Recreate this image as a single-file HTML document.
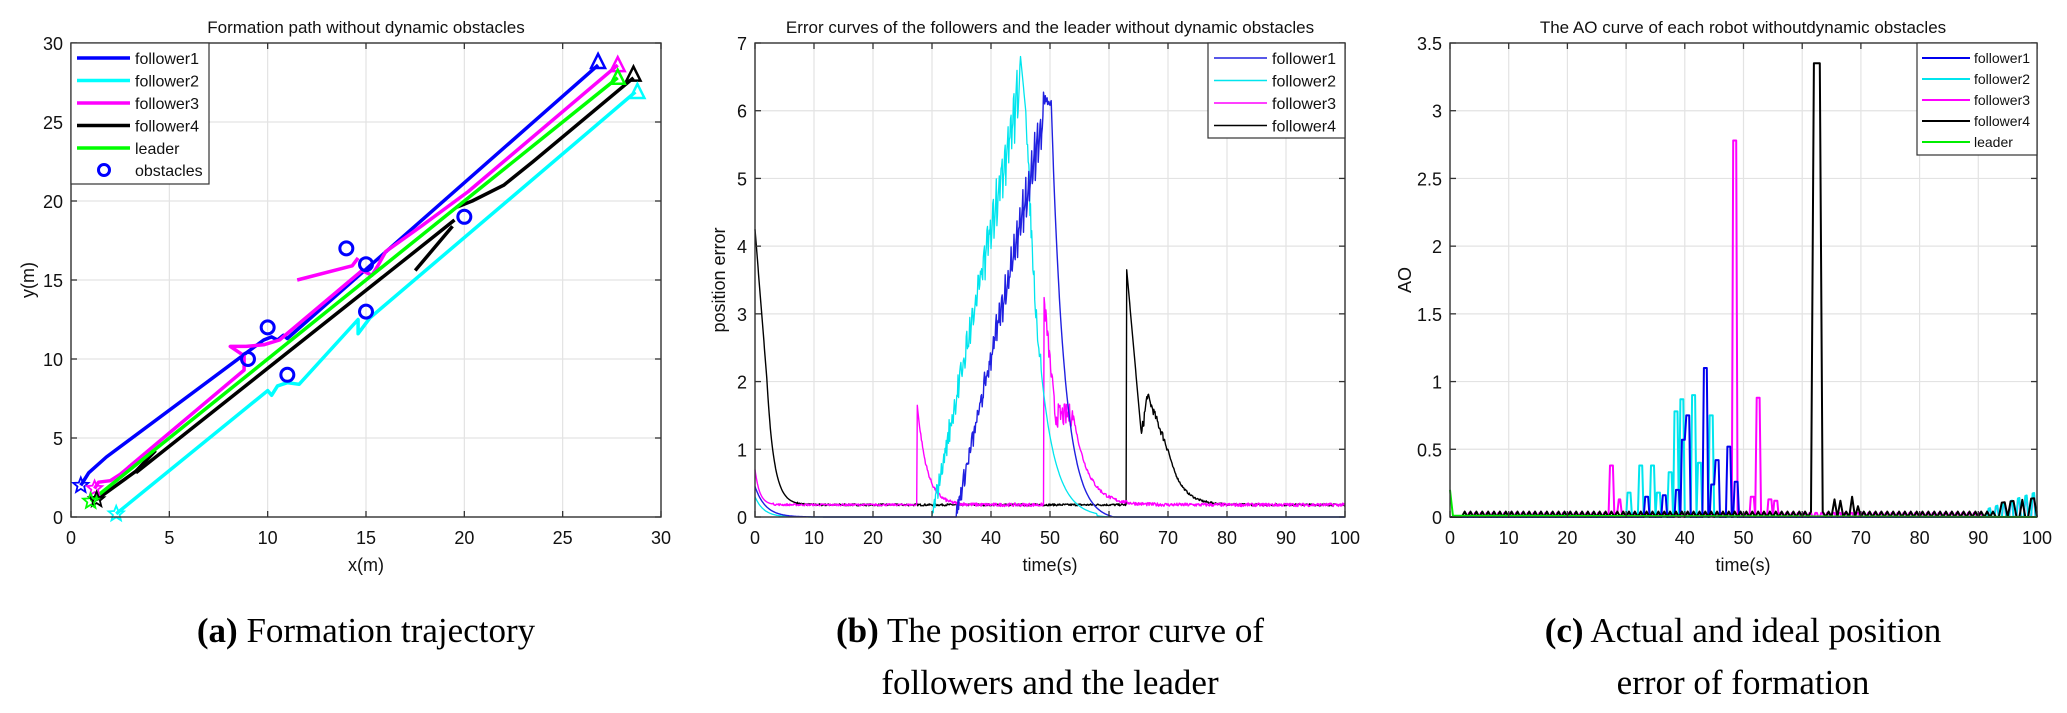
<!DOCTYPE html>
<html><head><meta charset="utf-8"><style>
html,body{margin:0;padding:0;background:#fff;}
svg{display:block;}
.t{font-family:"Liberation Sans",Arial,sans-serif;fill:#111;}
.cap{font-family:"Liberation Serif",serif;fill:#000;font-size:35px;}
</style></head><body>
<svg id="s" width="2067" height="713" xmlns="http://www.w3.org/2000/svg">
<rect width="2067" height="713" fill="#fff"/>
<g id="grid"></g>
<g id="data"></g>
<g id="axes"></g>
<text class="t" x="366" y="33" font-size="17" text-anchor="middle">Formation path without dynamic obstacles</text>
<text class="t" x="1050" y="33" font-size="17" text-anchor="middle">Error curves of the followers and the leader without dynamic obstacles</text>
<text class="t" x="1743" y="33" font-size="17" text-anchor="middle">The AO curve of each robot withoutdynamic obstacles</text>
<text class="t" x="366" y="571" font-size="18" text-anchor="middle">x(m)</text>
<text class="t" x="1050" y="571" font-size="18" text-anchor="middle">time(s)</text>
<text class="t" x="1743" y="571" font-size="18" text-anchor="middle">time(s)</text>
<text class="t" x="34" y="280" font-size="18" text-anchor="middle" transform="rotate(-90 34 280)">y(m)</text>
<text class="t" x="725" y="280" font-size="18" text-anchor="middle" transform="rotate(-90 725 280)">position error</text>
<text class="t" x="1411" y="280" font-size="18" text-anchor="middle" transform="rotate(-90 1411 280)">AO</text>
<text class="cap" x="366" y="642" text-anchor="middle"><tspan font-weight="bold">(a)</tspan> Formation trajectory</text>
<text class="cap" x="1050" y="642" text-anchor="middle"><tspan font-weight="bold">(b)</tspan> The position error curve of</text>
<text class="cap" x="1050" y="694" text-anchor="middle">followers and the leader</text>
<text class="cap" x="1743" y="642" text-anchor="middle"><tspan font-weight="bold">(c)</tspan> Actual and ideal position</text>
<text class="cap" x="1743" y="694" text-anchor="middle">error of formation</text>
<g id="ticks"></g>
<g id="leg"></g>
</svg>
<script>
var NS="http://www.w3.org/2000/svg";
function el(g,tag,a,txt){var e=document.createElementNS(NS,tag);for(var k in a)e.setAttribute(k,a[k]);if(txt!==undefined)e.textContent=txt;document.getElementById(g).appendChild(e);return e;}
var seed=7;function rnd(){seed=(seed*16807)%2147483647;return seed/2147483647;}
var P={
 a:{x0:71,x1:661,y0:43,y1:517,xmin:0,xmax:30,ymin:0,ymax:30,xt:[0,5,10,15,20,25,30],yt:[0,5,10,15,20,25,30]},
 b:{x0:755,x1:1345,y0:43,y1:517,xmin:0,xmax:100,ymin:0,ymax:7,xt:[0,10,20,30,40,50,60,70,80,90,100],yt:[0,1,2,3,4,5,6,7]},
 c:{x0:1450,x1:2037,y0:43,y1:517,xmin:0,xmax:100,ymin:0,ymax:3.5,xt:[0,10,20,30,40,50,60,70,80,90,100],yt:[0,0.5,1,1.5,2,2.5,3,3.5]}
};
function X(p,v){return p.x0+(v-p.xmin)/(p.xmax-p.xmin)*(p.x1-p.x0);}
function Y(p,v){return p.y1-(v-p.ymin)/(p.ymax-p.ymin)*(p.y1-p.y0);}
for(var k in P){var p=P[k];
 p.xt.forEach(function(v){var x=X(p,v);
  el("grid","line",{x1:x,x2:x,y1:p.y0,y2:p.y1,stroke:"#e3e3e3","stroke-width":1.2});
  el("axes","line",{x1:x,x2:x,y1:p.y1,y2:p.y1-6,stroke:"#333","stroke-width":1.3});
  el("axes","line",{x1:x,x2:x,y1:p.y0,y2:p.y0+6,stroke:"#333","stroke-width":1.3});
  el("ticks","text",{x:x,y:p.y1+27,"font-size":18,"text-anchor":"middle","class":"t"},String(v));});
 p.yt.forEach(function(v){var y=Y(p,v);
  el("grid","line",{x1:p.x0,x2:p.x1,y1:y,y2:y,stroke:"#e3e3e3","stroke-width":1.2});
  el("axes","line",{x1:p.x0,x2:p.x0+6,y1:y,y2:y,stroke:"#333","stroke-width":1.3});
  el("axes","line",{x1:p.x1,x2:p.x1-6,y1:y,y2:y,stroke:"#333","stroke-width":1.3});
  el("ticks","text",{x:p.x0-8,y:y+7,"font-size":18,"text-anchor":"end","class":"t"},String(v));});
 el("axes","rect",{x:p.x0,y:p.y0,width:p.x1-p.x0,height:p.y1-p.y0,fill:"none",stroke:"#333","stroke-width":1.4});
}
function poly(p,pts,col,w){var s=pts.map(function(q){return X(p,q[0]).toFixed(1)+","+Y(p,q[1]).toFixed(1);}).join(" ");
 el("data","polyline",{points:s,fill:"none",stroke:col,"stroke-width":w,"stroke-linejoin":"round"});}
var a=P.a,B="#0000ff",C="#00ffff",M="#ff00ff",K="#000",G="#00ff00";
poly(a,[[0.5,2],[0.9,2.8],[1.8,3.8],[9.8,11.2],[10.2,11.4],[10.5,11.2],[10.8,11.5],[11,11.3],[26.8,28.6]],B,3.5);
poly(a,[[2.3,0.2],[10,8],[10.2,7.7],[10.5,8.3],[11,8.5],[11.6,8.4],[14.6,12.5],[14.6,11.6],[15.2,12.6],[28.7,26.9]],C,3.5);
poly(a,[[1.2,1.8],[1.4,2.2],[2,2.3],[2.5,2.7],[8.8,9.3],[8.8,10.2],[8.1,10.8],[8.9,10.8],[9.8,10.9],[10.6,11.2],[14.8,15.6],[15.3,15.3],[15.6,15.9],[16,16.8],[17.8,18.4],[20.2,20.6],[27.8,28.6]],M,3.5);
poly(a,[[11.5,15],[14.3,15.9],[14.6,16.4]],M,3.5);
poly(a,[[1.3,1.1],[3.3,2.9],[4.3,4.2]],K,3.5);
poly(a,[[3.3,2.8],[18.4,17.7],[19.5,18.8]],K,3.5);
poly(a,[[17.5,15.6],[19.4,18.4]],K,3.5);
poly(a,[[19.6,19.6],[20.4,20],[22,21],[23.5,22.5],[28.6,27.8]],K,3.5);
poly(a,[[1,1],[27.8,27.8]],G,3.5);
function tri(p,x,y,col){var cx=X(p,x),cy=Y(p,y);el("data","polygon",{points:(cx-7)+","+(cy+6)+" "+(cx+7)+","+(cy+6)+" "+cx+","+(cy-8),fill:"none",stroke:col,"stroke-width":2.5});}
tri(a,26.8,28.8,B);tri(a,27.8,28.6,M);tri(a,28.6,28,K);tri(a,27.8,27.8,G);tri(a,28.8,26.9,C);
function star(p,x,y,col){var cx=X(p,x),cy=Y(p,y),s="";for(var i=0;i<10;i++){var r=i%2?3.5:8,an=-Math.PI/2+i*Math.PI/5;s+=(cx+r*Math.cos(an)).toFixed(1)+","+(cy+r*Math.sin(an)).toFixed(1)+" ";}
 el("data","polygon",{points:s,fill:"none",stroke:col,"stroke-width":1.8});}
star(a,0.5,2,B);star(a,1.2,1.8,M);star(a,1.3,1.1,K);star(a,2.3,0.2,C);star(a,1,1,G);
[[9,10],[10,12],[11,9],[14,17],[15,16],[15,13],[20,19]].forEach(function(o){el("data","circle",{cx:X(a,o[0]),cy:Y(a,o[1]),r:6.5,fill:"none",stroke:B,"stroke-width":3});});
el("leg","rect",{x:71,y:43,width:138,height:141,fill:"#fff",stroke:"#333","stroke-width":1.2});
[["follower1",B],["follower2",C],["follower3",M],["follower4",K],["leader",G]].forEach(function(l,i){var y=58+i*22.5;
 el("leg","line",{x1:77,x2:130,y1:y,y2:y,stroke:l[1],"stroke-width":3.5});
 el("leg","text",{x:135,y:y+6,"font-size":16,"class":"t"},l[0]);});
el("leg","circle",{cx:104,cy:170,r:5.5,fill:"none",stroke:B,"stroke-width":3});
el("leg","text",{x:135,y:176,"font-size":16,"class":"t"},"obstacles");
var b=P.b;
function series(f){var r=[];for(var t=0;t<=100.001;t+=0.1)r.push([t,f(t)]);return r;}
poly(b,series(function(t){
 if(t<63){var v=0.18+4.07*Math.exp(-t/1.6);if(t<2)v=4.25-t*1.1+0.0;return (t>2? 0.18+ (4.25-2.2-0.18)*Math.exp(-(t-2)/1.2):v)+ (t>7?(rnd()-0.5)*0.03:0);}
 if(t<65.5)return 3.65-(t-63)*0.98;
 if(t<66.5)return 1.2+(t-65.5)*0.6+(rnd()-0.5)*0.2;
 if(t<70)return 1.8-(t-66.5)*0.23+(rnd()-0.5)*0.12;
 return 0.18+0.82*Math.exp(-(t-70)/2.2)+(rnd()-0.5)*0.03;}),"#000",1.4);
poly(b,series(function(t){
 if(t<27.5)return 0.18+0.52*Math.exp(-t/0.8)+(t>3?(rnd()-0.5)*0.03:0);
 if(t<28)return 1.65-(t-27.5)*0.8;
 if(t<49)return 0.18+1.1*Math.exp(-(t-28)/1.6)+(rnd()-0.5)*0.05;
 if(t<51)return 3.2-(t-49)*0.9+(rnd()-0.5)*0.3;
 if(t<54)return 1.5+(rnd()-0.5)*0.35;
 return 0.18+1.3*Math.exp(-(t-54)/2.5)+(rnd()-0.5)*0.05;}),"#ff00ff",1.4);
poly(b,series(function(t){
 if(t<30)return 0.3*Math.exp(-t/1.5);
 if(t<45)return Math.max(0,(t-30)/15*6.5+ (((t*2)%1)-0.5)*0.9*(t-30)/15+(rnd()-0.5)*0.3);
 if(t<46)return 6.8-(t-45)*0.9;
 if(t<58)return 5.9*Math.exp(-(t-46)/2.5)+ (t<48.5?(rnd()-0.5)*0.4:0);
 return 0.02*Math.exp(-(t-58));}),"#00e5ee",1.3);
poly(b,series(function(t){
 if(t<34)return 0.45*Math.exp(-t/1.8);
 if(t<49)return Math.max(0,(t-34)/15*6.0+(((t*2)%1)-0.5)*0.8*(t-34)/15+(rnd()-0.5)*0.25);
 if(t<50.2)return 6.15+(rnd()-0.5)*0.15;
 return Math.max(0,6.2*Math.exp(-(t-50.2)/2.2)-0.05);}),"#2020e0",1.4);
el("leg","rect",{x:1208,y:43,width:137,height:95,fill:"#fff",stroke:"#333","stroke-width":1.2});
[["follower1","#2020e0"],["follower2","#00e5ee"],["follower3","#ff00ff"],["follower4","#000"]].forEach(function(l,i){var y=58+i*22.5;
 el("leg","line",{x1:1214,x2:1267,y1:y,y2:y,stroke:l[1],"stroke-width":1.4});
 el("leg","text",{x:1272,y:y+6,"font-size":16,"class":"t"},l[0]);});
var c=P.c;
function spikes(base,list,step){var r=[];var t=0;while(t<=100){var v=base(t);list.forEach(function(s){if(Math.abs(t-s[0])<0.3)v=s[1];});r.push([t,v]);t+=step;}return r;}
var zz=function(t){return (Math.round(t*2)%2)?0.04:0;};
poly(c,spikes(function(t){return (t>91?((Math.round(t*1.6)%2)?0.05+(t-91)*0.013:0):(Math.round(t*2)%2?0.03:0))*(t>3?1:0);},[[27.5,0.38],[28.8,0.13],[48.5,2.78],[52.5,0.88],[51.5,0.15],[54.5,0.13],[55.5,0.12]],0.25),"#ff00ff",2);
poly(c,spikes(function(t){return t>91?((Math.round(t*1.6)%2)?0.05+(t-91)*0.015:0):0;},[[30.5,0.18],[32.5,0.38],[34.5,0.38],[37.5,0.33],[38.5,0.78],[39.5,0.87],[41.5,0.9],[42.5,0.4],[44.5,0.75],[35.5,0.18]],0.25),"#00e5ee",2);
poly(c,spikes(function(t){return 0;},[[33.5,0.15],[36.5,0.16],[38.8,0.2],[40.5,0.75],[43.5,1.1],[45.5,0.42],[47.5,0.52],[48.7,0.26],[39.8,0.57],[44.7,0.24]],0.25),"#0000ee",2);
poly(c,spikes(function(t){return t<2?0:(t>93?((Math.round(t*1.2)%2)?0.1+(t-93)*0.006:0):zz(t));},[[62.3,3.35],[62.8,3.35],[65.5,0.13],[66.5,0.12],[68.5,0.15],[69.5,0.08]],0.5),"#000",2);
poly(c,[[0,0.2],[0.5,0.01],[100,0]],"#00ee00",2);
el("leg","rect",{x:1917,y:43,width:120,height:112,fill:"#fff",stroke:"#333","stroke-width":1.2});
[["follower1","#0000ee"],["follower2","#00e5ee"],["follower3","#ff00ff"],["follower4","#000"],["leader","#00ee00"]].forEach(function(l,i){var y=58+i*21;
 el("leg","line",{x1:1922,x2:1970,y1:y,y2:y,stroke:l[1],"stroke-width":2});
 el("leg","text",{x:1974,y:y+5,"font-size":14,"class":"t"},l[0]);});
</script>
</body></html>
